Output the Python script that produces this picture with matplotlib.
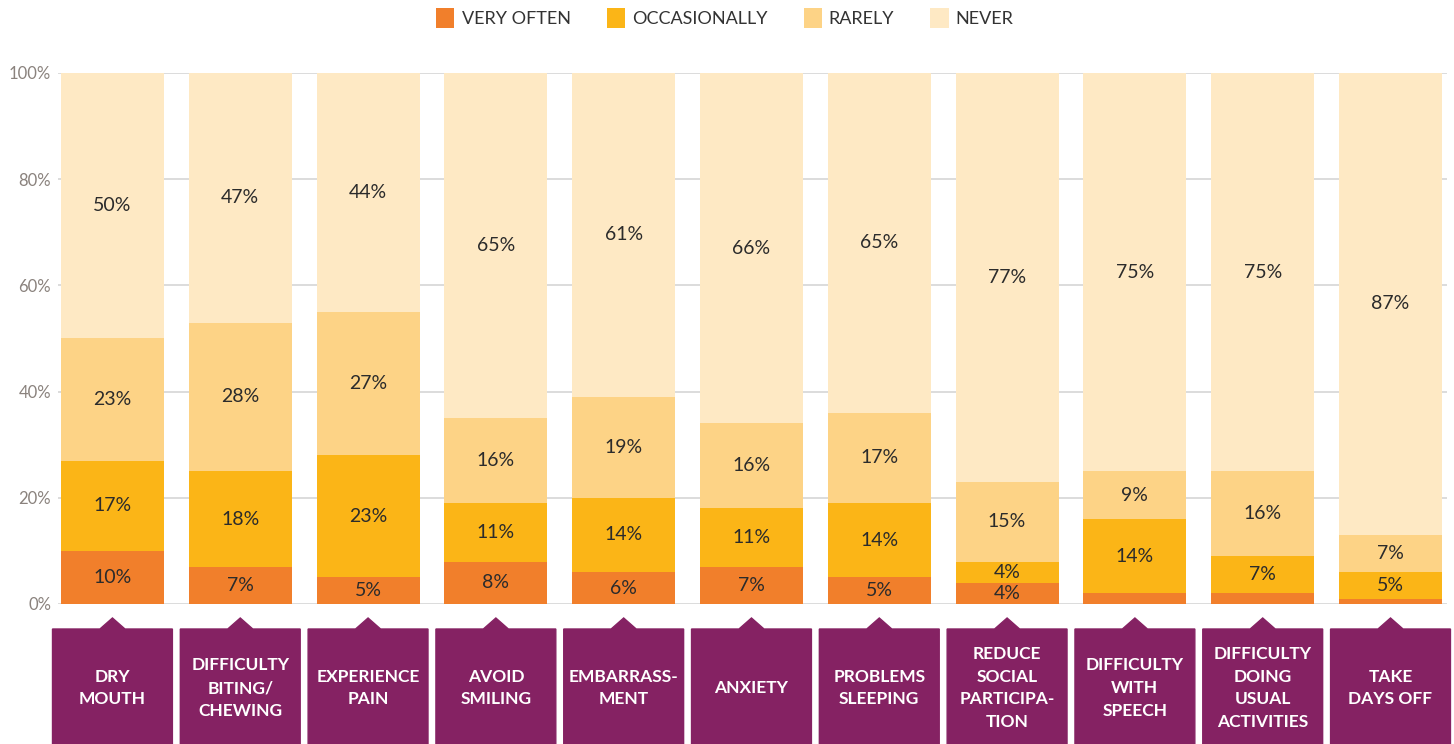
import numpy as np
import matplotlib.pyplot as plt
from matplotlib.patches import Polygon
from matplotlib.transforms import blended_transform_factory

# data (bottom to top of each bar)
categories = ['DRY\nMOUTH', 'DIFFICULTY\nBITING/\nCHEWING', 'EXPERIENCE\nPAIN',
              'AVOID\nSMILING', 'EMBARRASS-\nMENT', 'ANXIETY', 'PROBLEMS\nSLEEPING',
              'REDUCE\nSOCIAL\nPARTICIPA-\nTION', 'DIFFICULTY\nWITH\nSPEECH',
              'DIFFICULTY\nDOING\nUSUAL\nACTIVITIES', 'TAKE\nDAYS OFF']
very_often = [10, 7, 5, 8, 6, 7, 5, 4, 2, 2, 1]
occasionally = [17, 18, 23, 11, 14, 11, 14, 4, 14, 7, 5]
rarely = [23, 28, 27, 16, 19, 16, 17, 15, 9, 16, 7]
never = [50, 47, 45, 65, 61, 66, 64, 77, 75, 75, 87]

# printed values (source rounds; smallest slices are left unlabelled)
very_often_labels = ['10%', '7%', '5%', '8%', '6%', '7%', '5%', '4%', '', '', '']
occasionally_labels = ['17%', '18%', '23%', '11%', '14%', '11%', '14%', '4%', '14%', '7%', '5%']
rarely_labels = ['23%', '28%', '27%', '16%', '19%', '16%', '17%', '15%', '9%', '16%', '7%']
never_labels = ['50%', '47%', '44%', '65%', '61%', '66%', '65%', '77%', '75%', '75%', '87%']

series_names = ['VERY OFTEN', 'OCCASIONALLY', 'RARELY', 'NEVER']
yticks = [0, 20, 40, 60, 80, 100]

colors = ['#F17F2B', '#FBB517', '#FDD386', '#FEE9C4']
purple = '#852263'
plt.rcParams['font.family'] = ['Lato', 'DejaVu Sans']

fig = plt.figure(figsize=(14.54, 7.44), dpi=100)
ax = fig.add_axes([58 / 1454, 1 - 604 / 744, (1447 - 58) / 1454, (604 - 73) / 744])

x = np.arange(len(categories))
series = [very_often, occasionally, rarely, never]
labels = [very_often_labels, occasionally_labels, rarely_labels, never_labels]
bottom = np.zeros(len(categories))
for vals, lab, col, name in zip(series, labels, colors, series_names):
    bars = ax.bar(x, vals, bottom=bottom, width=0.806, color=col, label=name, zorder=2)
    ax.bar_label(bars, labels=lab, label_type='center', fontsize=14, color='#2B2B2B')
    bottom += np.array(vals)

ax.set_xlim(-0.426, len(categories) - 1 + 0.442)
ax.set_ylim(0, 100)
ax.set_yticks(yticks)
ax.set_yticklabels([f'{v}%' for v in yticks], fontsize=12, color='#8A827D')
ax.set_xticks([])
ax.tick_params(axis='y', length=0, pad=5)
ax.grid(axis='y', color='#D5D5D5', lw=1.2, zorder=0)
for s in ax.spines.values():
    s.set_visible(False)

# purple label boxes with a pointer under each bar
tr = blended_transform_factory(ax.transData, fig.transFigure)
top = 1 - 629 / 744
apex = 1 - 618 / 744
hw = 0.469
tw = 0.098
for xi, name in zip(x, categories):
    pts = [(xi - hw, -0.01), (xi - hw, top), (xi - tw, top), (xi, apex),
           (xi + tw, top), (xi + hw, top), (xi + hw, -0.01)]
    ax.add_patch(Polygon(pts, closed=True, color=purple, transform=tr, clip_on=False))
    ax.text(xi, 1 - 688 / 744, name, transform=tr, ha='center', va='center',
            color='white', fontsize=12.5, fontweight='bold', linespacing=1.52)

fig.legend(loc='center', bbox_to_anchor=(0.4986, 1 - 18 / 744), ncol=4, frameon=False,
           fontsize=13, handlelength=1.0, handleheight=1.25, handletextpad=0.4,
           columnspacing=2.0, labelcolor='#333333')

fig.savefig('out.png', dpi=100)
